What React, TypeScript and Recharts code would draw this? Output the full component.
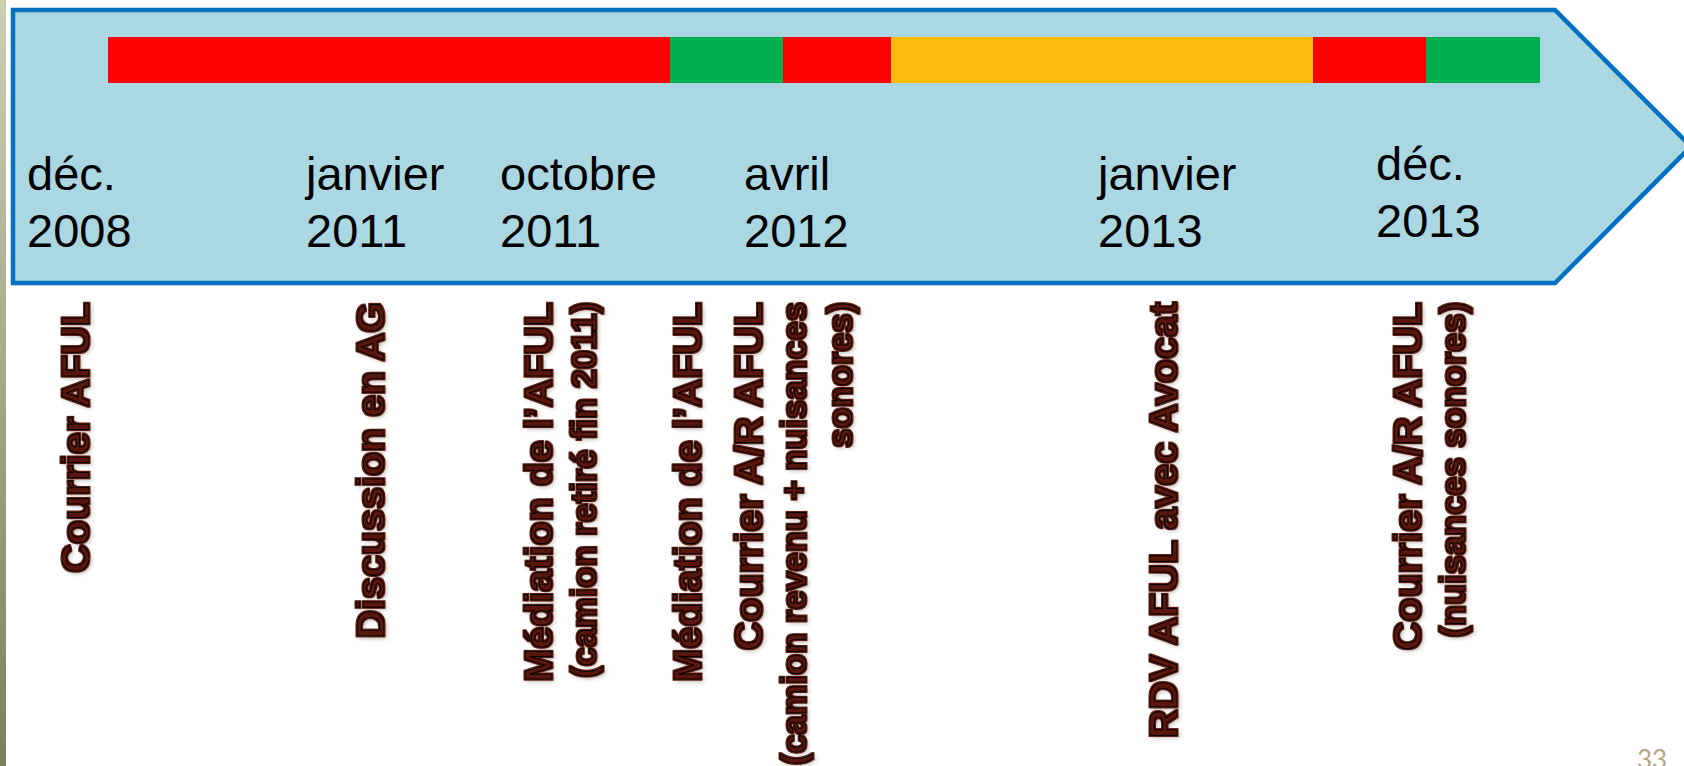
import React from 'react';
import { BarChart, Bar, XAxis, YAxis } from 'recharts';

const W = 1684;
const H = 766;

// Timeline periods (length of each coloured segment, in timeline units)
const periodKeys = ['p1', 'p2', 'p3', 'p4', 'p5', 'p6'];
const periodLengths = [562, 113, 108, 422, 113, 114];
const periodColors = ['#ff0000', '#00b050', '#ff0000', '#ffba10', '#ff0000', '#00b050'];

// Date labels inside the arrow (timeline position of each label)
const dateTicks = [-81, 198, 392, 636, 990, 1268];
const dateLabels = [
  ['déc.', '2008'],
  ['janvier', '2011'],
  ['octobre', '2011'],
  ['avril', '2012'],
  ['janvier', '2013'],
  ['déc.', '2013'],
];

// Event labels under the arrow (timeline position of each label)
const eventTicks = [-19, 276, 444, 593, 654, 1069, 1313];
const eventLabels = [
  ['Courrier AFUL'],
  ['Discussion en AG'],
  ['Médiation de l’AFUL', '(camion retiré fin 2011)'],
  ['Médiation de l’AFUL'],
  ['Courrier A/R AFUL', '(camion revenu + nuisances', 'sonores)'],
  ['RDV AFUL avec Avocat'],
  ['Courrier A/R AFUL', '(nuisances sonores)'],
];

const pageNumber = '33';

const row: Record<string, string | number> = { name: 'frise' };
periodKeys.forEach((k, i) => {
  row[k] = periodLengths[i];
});
const rows = [row];

const SANS = "'Liberation Sans', Arial, Helvetica, sans-serif";

function DateTick(props: any) {
  const { x, payload } = props;
  const i = dateTicks.indexOf(Number(payload.value));
  if (i < 0) return <g />;
  const lines = dateLabels[i];
  const top = i === dateTicks.length - 1 ? 180 : 190;
  return (
    <text x={x} y={top} fontFamily={SANS} fontSize={47} fill="#000000" textAnchor="start">
      <tspan x={x} y={top}>{lines[0]}</tspan>
      <tspan x={x} y={top + 57}>{lines[1]}</tspan>
    </text>
  );
}

function EventTick(props: any) {
  const { x, payload } = props;
  const i = eventTicks.indexOf(Number(payload.value));
  if (i < 0) return <g />;
  const lines = eventLabels[i];
  return (
    <g transform={`translate(${x},302) rotate(-90)`} filter="url(#halo)">
      {lines.map((t, j) => {
        const v = j === 0 ? 0 : 44 + (j - 1) * 46;
        const fs = j === 0 ? 39.5 : 34.5;
        return (
          <text
            key={j}
            x={0}
            y={v}
            textAnchor="end"
            fontFamily={SANS}
            fontWeight="bold"
            fontSize={fs}
            fill="#5a1808"
            stroke="#000000"
            strokeWidth={1.2}
            strokeLinejoin="round"
          >
            {t}
          </text>
        );
      })}
    </g>
  );
}

export default function App() {
  return (
    <div style={{ position: 'absolute', left: 0, top: 0, width: W, height: H, background: '#ffffff', overflow: 'hidden' }}>
      <svg width={W} height={H} style={{ position: 'absolute', left: 0, top: 0 }}>
        <defs>
          <linearGradient id="leftStrip" x1="0" y1="0" x2="0" y2="1">
            <stop offset="0" stopColor="#cdcfb5" />
            <stop offset="1" stopColor="#7a8062" />
          </linearGradient>
          <filter id="halo" x="-10%" y="-10%" width="120%" height="120%">
            <feMorphology in="SourceAlpha" operator="dilate" radius="1.1" result="d" />
            <feGaussianBlur in="d" stdDeviation="0.5" result="db" />
            <feFlood floodColor="#5e1c0c" result="c" />
            <feComposite in="c" in2="db" operator="in" result="ring" />
            <feGaussianBlur in="SourceAlpha" stdDeviation="2" result="sb" />
            <feOffset in="sb" dx="-2" dy="2" result="so" />
            <feFlood floodColor="#000000" floodOpacity="0.28" result="sc" />
            <feComposite in="sc" in2="so" operator="in" result="shadow" />
            <feMerge>
              <feMergeNode in="shadow" />
              <feMergeNode in="ring" />
              <feMergeNode in="SourceGraphic" />
            </feMerge>
          </filter>
        </defs>
        <rect x={0} y={0} width={6} height={H} fill="url(#leftStrip)" />
        <polygon
          points="13,10 1555,10 1691,146.5 1555,283 13,283"
          fill="#aad7e2"
          stroke="#0070c0"
          strokeWidth={4.5}
          strokeLinejoin="miter"
        />
        <text x={1637} y={769} fontFamily="Lato, 'Open Sans', sans-serif" fontSize={26} fill="#b3a484">
          {pageNumber}
        </text>
      </svg>
      <div style={{ position: 'absolute', left: 0, top: 0 }}>
        <BarChart
          width={W}
          height={H}
          data={rows}
          layout="vertical"
          margin={{ top: 36, right: 0, bottom: H - 84, left: 0 }}
          barCategoryGap={0}
        >
          <YAxis type="category" dataKey="name" hide width={0} />
          <XAxis
            xAxisId="dates"
            type="number"
            domain={[-108, 1576]}
            allowDataOverflow
            orientation="top"
            height={1}
            axisLine={false}
            tickLine={false}
            ticks={dateTicks}
            interval={0}
            tick={(p: any) => <DateTick {...p} />}
          />
          <XAxis
            xAxisId="events"
            type="number"
            domain={[-108, 1576]}
            allowDataOverflow
            orientation="bottom"
            height={1}
            axisLine={false}
            tickLine={false}
            ticks={eventTicks}
            interval={0}
            tick={(p: any) => <EventTick {...p} />}
          />
          {periodKeys.map((k, i) => (
            <Bar
              key={k}
              dataKey={k}
              stackId="frise"
              xAxisId="dates"
              fill={periodColors[i]}
              isAnimationActive={false}
            />
          ))}
        </BarChart>
      </div>
    </div>
  );
}
